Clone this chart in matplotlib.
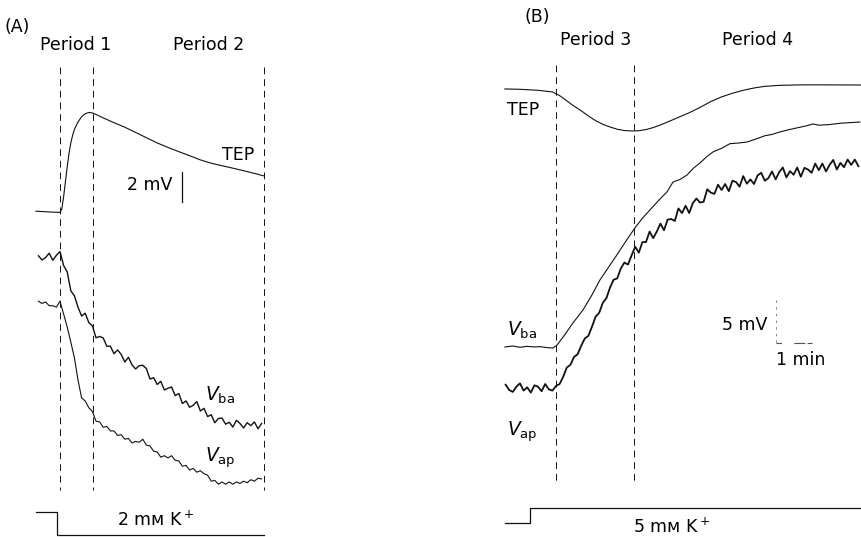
import matplotlib
matplotlib.use("Agg")
import matplotlib.pyplot as plt

# ---------------- panel A : 2 mM K+ (time in min, potentials in mV) --------
tep_a_t = [-0.67, -0.3, 0.0, 0.05, 0.1, 0.15, 0.2, 0.25, 0.3, 0.35, 0.4, 0.5,
           0.6, 0.7, 0.8, 0.9, 1.0, 1.2, 1.5, 1.8, 2.1, 2.4, 2.7, 3.0, 3.3,
           3.6, 3.9, 4.2, 4.5, 4.8, 5.1, 5.4, 5.67]
tep_a_v = [0.05, 0.0, -0.03, 0.2, 1.0, 2.0, 3.0, 3.9, 4.6, 5.1, 5.5, 6.0,
           6.35, 6.55, 6.63, 6.6, 6.5, 6.27, 5.95, 5.65, 5.3, 4.95, 4.6, 4.3,
           4.02, 3.75, 3.47, 3.25, 3.08, 2.92, 2.75, 2.57, 2.4]

v_a_t = [-0.6, -0.5, -0.4, -0.3, -0.2, -0.1, 0.0, 0.1, 0.2, 0.3, 0.4, 0.5,
         0.6, 0.7, 0.8, 0.9, 1.0, 1.1, 1.2, 1.3, 1.4, 1.5, 1.6, 1.7, 1.8,
         1.9, 2.0, 2.1, 2.2, 2.3, 2.4, 2.5, 2.6, 2.7, 2.8, 2.9, 3.0, 3.1,
         3.2, 3.3, 3.4, 3.5, 3.6, 3.7, 3.8, 3.9, 4.0, 4.1, 4.2, 4.3, 4.4,
         4.5, 4.6, 4.7, 4.8, 4.9, 5.0, 5.1, 5.2, 5.3, 5.4, 5.5, 5.6]
vba_a = [0.15, -0.13, 0.03, 0.32, -0.15, 0.18, 0.43, -0.5, -0.93, -2.18,
         -2.52, -3.28, -3.87, -3.68, -4.3, -4.52, -5.32, -5.23, -5.33, -5.88,
         -5.88, -6.38, -6.13, -6.43, -6.93, -6.62, -7.12, -7.4, -7.18, -7.15,
         -7.37, -8.07, -7.98, -8.43, -8.22, -8.8, -8.68, -8.6, -9.18, -9.03,
         -9.7, -9.53, -9.95, -9.82, -9.57, -10.2, -10.02, -10.57, -10.45,
         -10.98, -10.7, -10.67, -11.08, -10.95, -11.27, -10.82, -11.03,
         -11.33, -10.98, -11.18, -10.93, -11.38, -11.03]
vap_a = [0.05, -0.1, 0.0, -0.25, -0.25, -0.35, 0.05, -0.8, -1.67, -2.67,
         -3.73, -5.2, -6.4, -6.6, -7.05, -7.3, -7.95, -8.0, -8.35, -8.3,
         -8.6, -8.6, -8.9, -8.85, -9.15, -9.1, -9.4, -9.3, -9.35, -9.15,
         -9.55, -9.6, -9.95, -10.0, -10.35, -10.25, -10.4, -10.25, -10.55,
         -10.6, -10.95, -10.9, -11.2, -11.1, -11.35, -11.25, -11.45, -11.55,
         -11.95, -11.9, -12.15, -12.0, -12.15, -12.0, -12.15, -12.0, -12.1,
         -11.95, -12.05, -11.85, -11.95, -11.75, -11.8]

k_a_t = [-0.67, -0.08, -0.08, 5.67]
k_a_mm = [0, 0, 2, 2]
periods_a = [0.0, 0.92, 5.67]

# ---------------- panel B : 5 mM K+ ---------------------------------------
tep_b_t = [-1.42, -1.0, -0.5, -0.1, 0.1, 0.3, 0.5, 0.7, 0.9, 1.1, 1.3, 1.5,
           1.7, 1.9, 2.1, 2.3, 2.5, 2.7, 2.9, 3.1, 3.4, 3.7, 4.0, 4.3, 4.6,
           4.9, 5.2, 5.5, 5.8, 6.2, 6.8, 7.5, 8.47]
tep_b_v = [0.0, -0.05, -0.2, -0.45, -1.0, -1.8, -2.6, -3.3, -4.1, -4.8,
           -5.35, -5.76, -6.1, -6.3, -6.36, -6.33, -6.15, -5.85, -5.45, -5.0,
           -4.3, -3.6, -2.8, -1.9, -1.2, -0.65, -0.2, 0.15, 0.4, 0.55, 0.62,
           0.62, 0.6]

vba_b_t = [-1.42, -1.2, -1.0, -0.8, -0.6, -0.44, -0.25, -0.08, 0.03, 0.25,
           0.47, 0.75, 1.0, 1.22, 1.45, 1.69, 1.95, 2.19, 2.4, 2.61, 2.85,
           3.08, 3.25, 3.45, 3.64, 3.82, 4.0, 4.18, 4.36, 4.6, 4.83, 5.07,
           5.31, 5.55, 5.8, 6.0, 6.22, 6.45, 6.7, 6.95, 7.14, 7.3, 7.6, 7.9,
           8.2, 8.44]
vba_b = [0.0, 0.15, -0.05, 0.1, 0.0, 0.05, -0.1, -0.15, 0.3, 1.9, 3.64,
         5.61, 7.9, 10.15, 12.0, 13.94, 16.1, 18.03, 19.5, 20.76, 22.2, 23.48,
         24.99, 25.4, 26.06, 27.1, 27.88, 28.8, 29.55, 30.1, 30.8, 30.9,
         31.06, 31.5, 32.0, 32.2, 32.58, 32.9, 33.2, 33.5, 33.79, 33.6, 33.7,
         33.9, 34.0, 34.09]

vap_b_t = [-1.4, -1.3, -1.2, -1.1, -1.0, -0.9, -0.8, -0.7, -0.6, -0.5, -0.4,
           -0.3, -0.2, -0.1, 0.0, 0.1, 0.2, 0.3, 0.4, 0.5, 0.6, 0.7, 0.8,
           0.9, 1.0, 1.1, 1.2, 1.3, 1.4, 1.5, 1.6, 1.7, 1.8, 1.9, 2.0, 2.1,
           2.2, 2.3, 2.4, 2.5, 2.6, 2.7, 2.8, 2.9, 3.0, 3.1, 3.2, 3.3, 3.4,
           3.5, 3.6, 3.7, 3.8, 3.9, 4.0, 4.1, 4.2, 4.3, 4.4, 4.5, 4.6, 4.7,
           4.8, 4.9, 5.0, 5.1, 5.2, 5.3, 5.4, 5.5, 5.6, 5.7, 5.8, 5.9, 6.0,
           6.1, 6.2, 6.3, 6.4, 6.5, 6.6, 6.7, 6.8, 6.9, 7.0, 7.1, 7.2, 7.3,
           7.4, 7.5, 7.6, 7.7, 7.8, 7.9, 8.0, 8.1, 8.2, 8.3, 8.4]
vap_b = [0.5, -0.3, -0.6, 0.2, 0.7, -0.4, 0.1, -0.7, 0.4, 0.2, -0.5, 0.6,
         -0.2, -0.4, 0.3,
         0.6, 1.7, 3.1, 3.5, 4.7, 5.1, 6.4, 7.5, 7.9, 9.3, 10.8, 11.4, 12.9,
         13.6, 15.2, 16.4, 16.6, 18.1,
         19.0, 18.7, 20.1, 21.4, 20.5, 22.1, 22.1, 23.7, 22.7, 23.7, 24.9,
         23.9, 25.5, 25.6, 25.3, 27.2, 26.5, 27.6, 26.5, 28.0, 28.7, 28.1,
         28.2, 30.1, 29.6, 29.4, 30.8, 30.0, 30.9, 29.8, 31.4, 31.2, 30.5,
         32.1, 30.95, 31.6, 30.9, 32.2, 32.6, 31.4, 31.8, 32.8, 31.6, 32.7,
         33.4, 31.9, 32.85, 32.3, 33.4, 32.0, 33.35, 33.1, 32.6, 34.0, 33.0,
         34.0, 32.8, 33.8, 34.55, 33.1, 34.1, 33.45, 34.6, 33.8, 34.6, 33.6]

k_b_t = [-1.42, -0.72, -0.72, 8.47]
k_b_mm = [0, 0, 5, 5]
periods_b = [0.0, 2.17]

INK = "#111111"
DASH = (0, (7, 5))
fs = 12.5

fig = plt.figure(figsize=(8.61, 5.37), dpi=100, facecolor="white")

# ---- panel A ----
ax = fig.add_axes([0, 0, 0.5, 1])
ax.set_xlim(-1.6667, 10.2917)
ax.set_ylim(-21.67, 14.13)
ax.axis("off")

for p in periods_a:
    ax.plot([p, p], [9.67, -18.53], color=INK, lw=0.7, ls=DASH)
ax.plot(tep_a_t, tep_a_v, color=INK, lw=0.8)
ax.plot(v_a_t, [v - 3.07 for v in vba_a], color=INK, lw=1.0)
ax.plot(v_a_t, [v - 6.0 for v in vap_a], color=INK, lw=0.8)
ax.plot(k_a_t, [-20.0 - 0.765 * k for k in k_a_mm], color=INK, lw=0.9)
ax.plot([3.39, 3.39], [0.67, 2.67], color=INK, lw=0.9)

ax.text(-1.53, 12.33, "(A)", fontsize=fs, va="center", ha="left")
ax.text(0.44, 11.13, "Period 1", fontsize=fs, va="center", ha="center")
ax.text(4.14, 11.13, "Period 2", fontsize=fs, va="center", ha="center")
ax.text(4.5, 3.8, "TEP", fontsize=fs, va="center", ha="left")
ax.text(3.11, 1.8, "2 mV", fontsize=fs, va="center", ha="right")
ax.text(4.03, -12.2, r"$V_{\mathrm{ba}}$", fontsize=fs + 1, va="center", ha="left")
ax.text(4.03, -16.4, r"$V_{\mathrm{ap}}$", fontsize=fs + 1, va="center", ha="left")
ax.text(2.64, -20.55, "2 mᴍ K$^+$", fontsize=fs, va="center", ha="center")

# ---- panel B ----
bx = fig.add_axes([0.5, 0, 0.5, 1])
bx.set_xlim(-3.486, 8.472)
bx.set_ylim(-67.88, 13.48)
bx.axis("off")

for p in periods_b:
    bx.plot([p, p], [3.64, -60.0], color=INK, lw=0.7, ls=DASH)
bx.plot(tep_b_t, tep_b_v, color=INK, lw=0.8)
bx.plot(vba_b_t, [v - 39.09 for v in vba_b], color=INK, lw=0.8)
bx.plot(vap_b_t, [v - 45.3 for v in vap_b], color=INK, lw=1.3)
bx.plot(k_b_t, [-65.76 + 0.456 * k for k in k_b_mm], color=INK, lw=0.9)
# scale bars 5 mV / 1 min (faint in the print)
bx.plot([6.11, 6.11], [-32.0, -38.5], color="#777777", lw=0.6, ls=(0, (3, 5)))
bx.plot([6.11, 7.11], [-38.5, -38.5], color="#555555", lw=0.8,
        ls=(0, (5, 11, 10, 2)))

bx.text(-0.53, 10.9, "(B)", fontsize=fs, va="center", ha="center")
bx.text(1.11, 7.42, "Period 3", fontsize=fs, va="center", ha="center")
bx.text(5.61, 7.42, "Period 4", fontsize=fs, va="center", ha="center")
bx.text(-1.36, -3.18, "TEP", fontsize=fs, va="center", ha="left")
bx.text(-1.36, -36.5, r"$V_{\mathrm{ba}}$", fontsize=fs + 1, va="center", ha="left")
bx.text(-1.36, -52.0, r"$V_{\mathrm{ap}}$", fontsize=fs + 1, va="center", ha="left")
bx.text(5.86, -35.76, "5 mV", fontsize=fs, va="center", ha="right")
bx.text(6.11, -41.06, "1 min", fontsize=fs, va="center", ha="left")
bx.text(3.22, -66.4, "5 mᴍ K$^+$", fontsize=fs, va="center", ha="center")

fig.savefig("out.png", dpi=100, facecolor="white")
